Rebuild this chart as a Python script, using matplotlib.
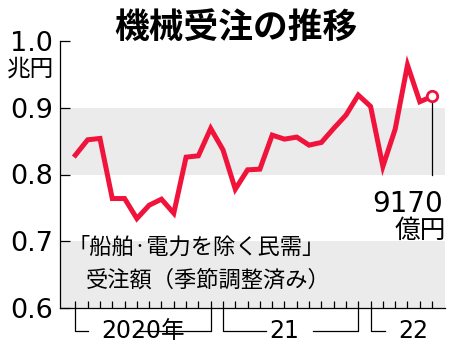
import matplotlib
matplotlib.use("Agg")
import matplotlib.pyplot as plt
import matplotlib.transforms as mtransforms
import numpy as np

# 機械受注（船舶・電力を除く民需、季節調整済み）2020年1月〜2022年6月、兆円
values = [0.829, 0.852, 0.854, 0.764, 0.764, 0.734, 0.754, 0.763, 0.742, 0.826,
          0.828, 0.869, 0.837, 0.778, 0.807, 0.808, 0.859, 0.853, 0.856, 0.844,
          0.848, 0.869, 0.889, 0.919, 0.902, 0.812, 0.868, 0.964, 0.909, 0.917]
yticks = [0.6, 0.7, 0.8, 0.9, 1.0]
ytick_labels = ["0.6", "0.7", "0.8", "0.9", "1.0"]
bands = [(0.6, 0.7), (0.8, 0.9)]
years = ["2020年", "21", "22"]
year_months = [12, 12, 6]
last_label = "9170"

W, H = 450, 358
RED = "#f0143c"
plt.rcParams['font.family'] = ['DejaVu Sans', 'Noto Sans CJK JP']

def fx(x):
    return x / W

def fy(y):
    return 1 - y / H

fig = plt.figure(figsize=(4.5, 3.58), dpi=100)
ax = fig.add_axes([fx(60), fy(308), fx(445) - fx(60), fy(41) - fy(308)])

x = np.arange(len(values))
for lo, hi in bands:
    ax.axhspan(lo, hi, color="#ebebeb", lw=0, zorder=0)
ax.plot(x, values, color=RED, lw=3.6, solid_joinstyle="miter", zorder=3)
ax.plot(x[-1], values[-1], "o", ms=7.5, mfc="white", mec=RED, mew=2, zorder=4)

ax.set_xlim(-1.25, 30.05)
ax.set_ylim(0.6, 1.0)
for s in ["top", "right"]:
    ax.spines[s].set_visible(False)
ax.spines["left"].set_linewidth(0.9)
ax.spines["bottom"].set_linewidth(0.9)
ax.set_yticks(yticks)
ax.set_yticklabels(ytick_labels, fontsize=19.5)
ax.tick_params(axis="y", direction="in", length=7, width=0.9, pad=5)
ax.set_xticks(x)
ax.set_xticklabels([])
ax.tick_params(axis="x", direction="in", length=5, width=0.9)

# year brackets below the axis
trans = mtransforms.blended_transform_factory(ax.transData, ax.transAxes)
yb = -0.086
start = 0
gaps = [(1.0, 6.0), (3.5, 3.7), (1.2, 0)]
for name, n, (gl, gr) in zip(years, year_months, gaps):
    a, b = start, start + n - 1
    ax.plot([a, a, a + gl], [0.0, yb, yb], color="black", lw=0.9,
            transform=trans, clip_on=False)
    if n == 12:
        ax.plot([b - gr, b, b], [yb, yb, 0.0], color="black", lw=0.9,
                transform=trans, clip_on=False)
    start += n
ax.text(5.5, yb, years[0], transform=trans, ha="center", va="center", fontsize=17)
ax.text(17.0, yb, years[1], transform=trans, ha="center", va="center", fontsize=17)
ax.text(27.5, yb, years[2], transform=trans, ha="center", va="center", fontsize=17)

# leader line and value label
ax.plot([x[-1], x[-1]], [values[-1] - 0.006, 0.8], color="black", lw=0.9, zorder=2)
fig.text(fx(408), fy(204), last_label, ha="center", va="center", fontsize=20)
fig.text(fx(420), fy(231), "億円", ha="center", va="center", fontsize=18.5,
         family="Noto Sans CJK JP")

fig.text(fx(236), fy(27), "機械受注の推移", ha="center", va="center",
         fontsize=25, fontweight="bold", family="Noto Sans CJK JP")
fig.text(fx(31), fy(69), "兆円", ha="center", va="center", fontsize=17,
         family="Noto Sans CJK JP")
fig.text(fx(68), fy(247), "「船舶·電力を除く民需」", ha="left", va="center",
         fontsize=16, family="Noto Sans CJK JP")
fig.text(fx(86), fy(280), "受注額（季節調整済み）", ha="left", va="center",
         fontsize=16, family="Noto Sans CJK JP")

fig.savefig("out.png", dpi=100)
